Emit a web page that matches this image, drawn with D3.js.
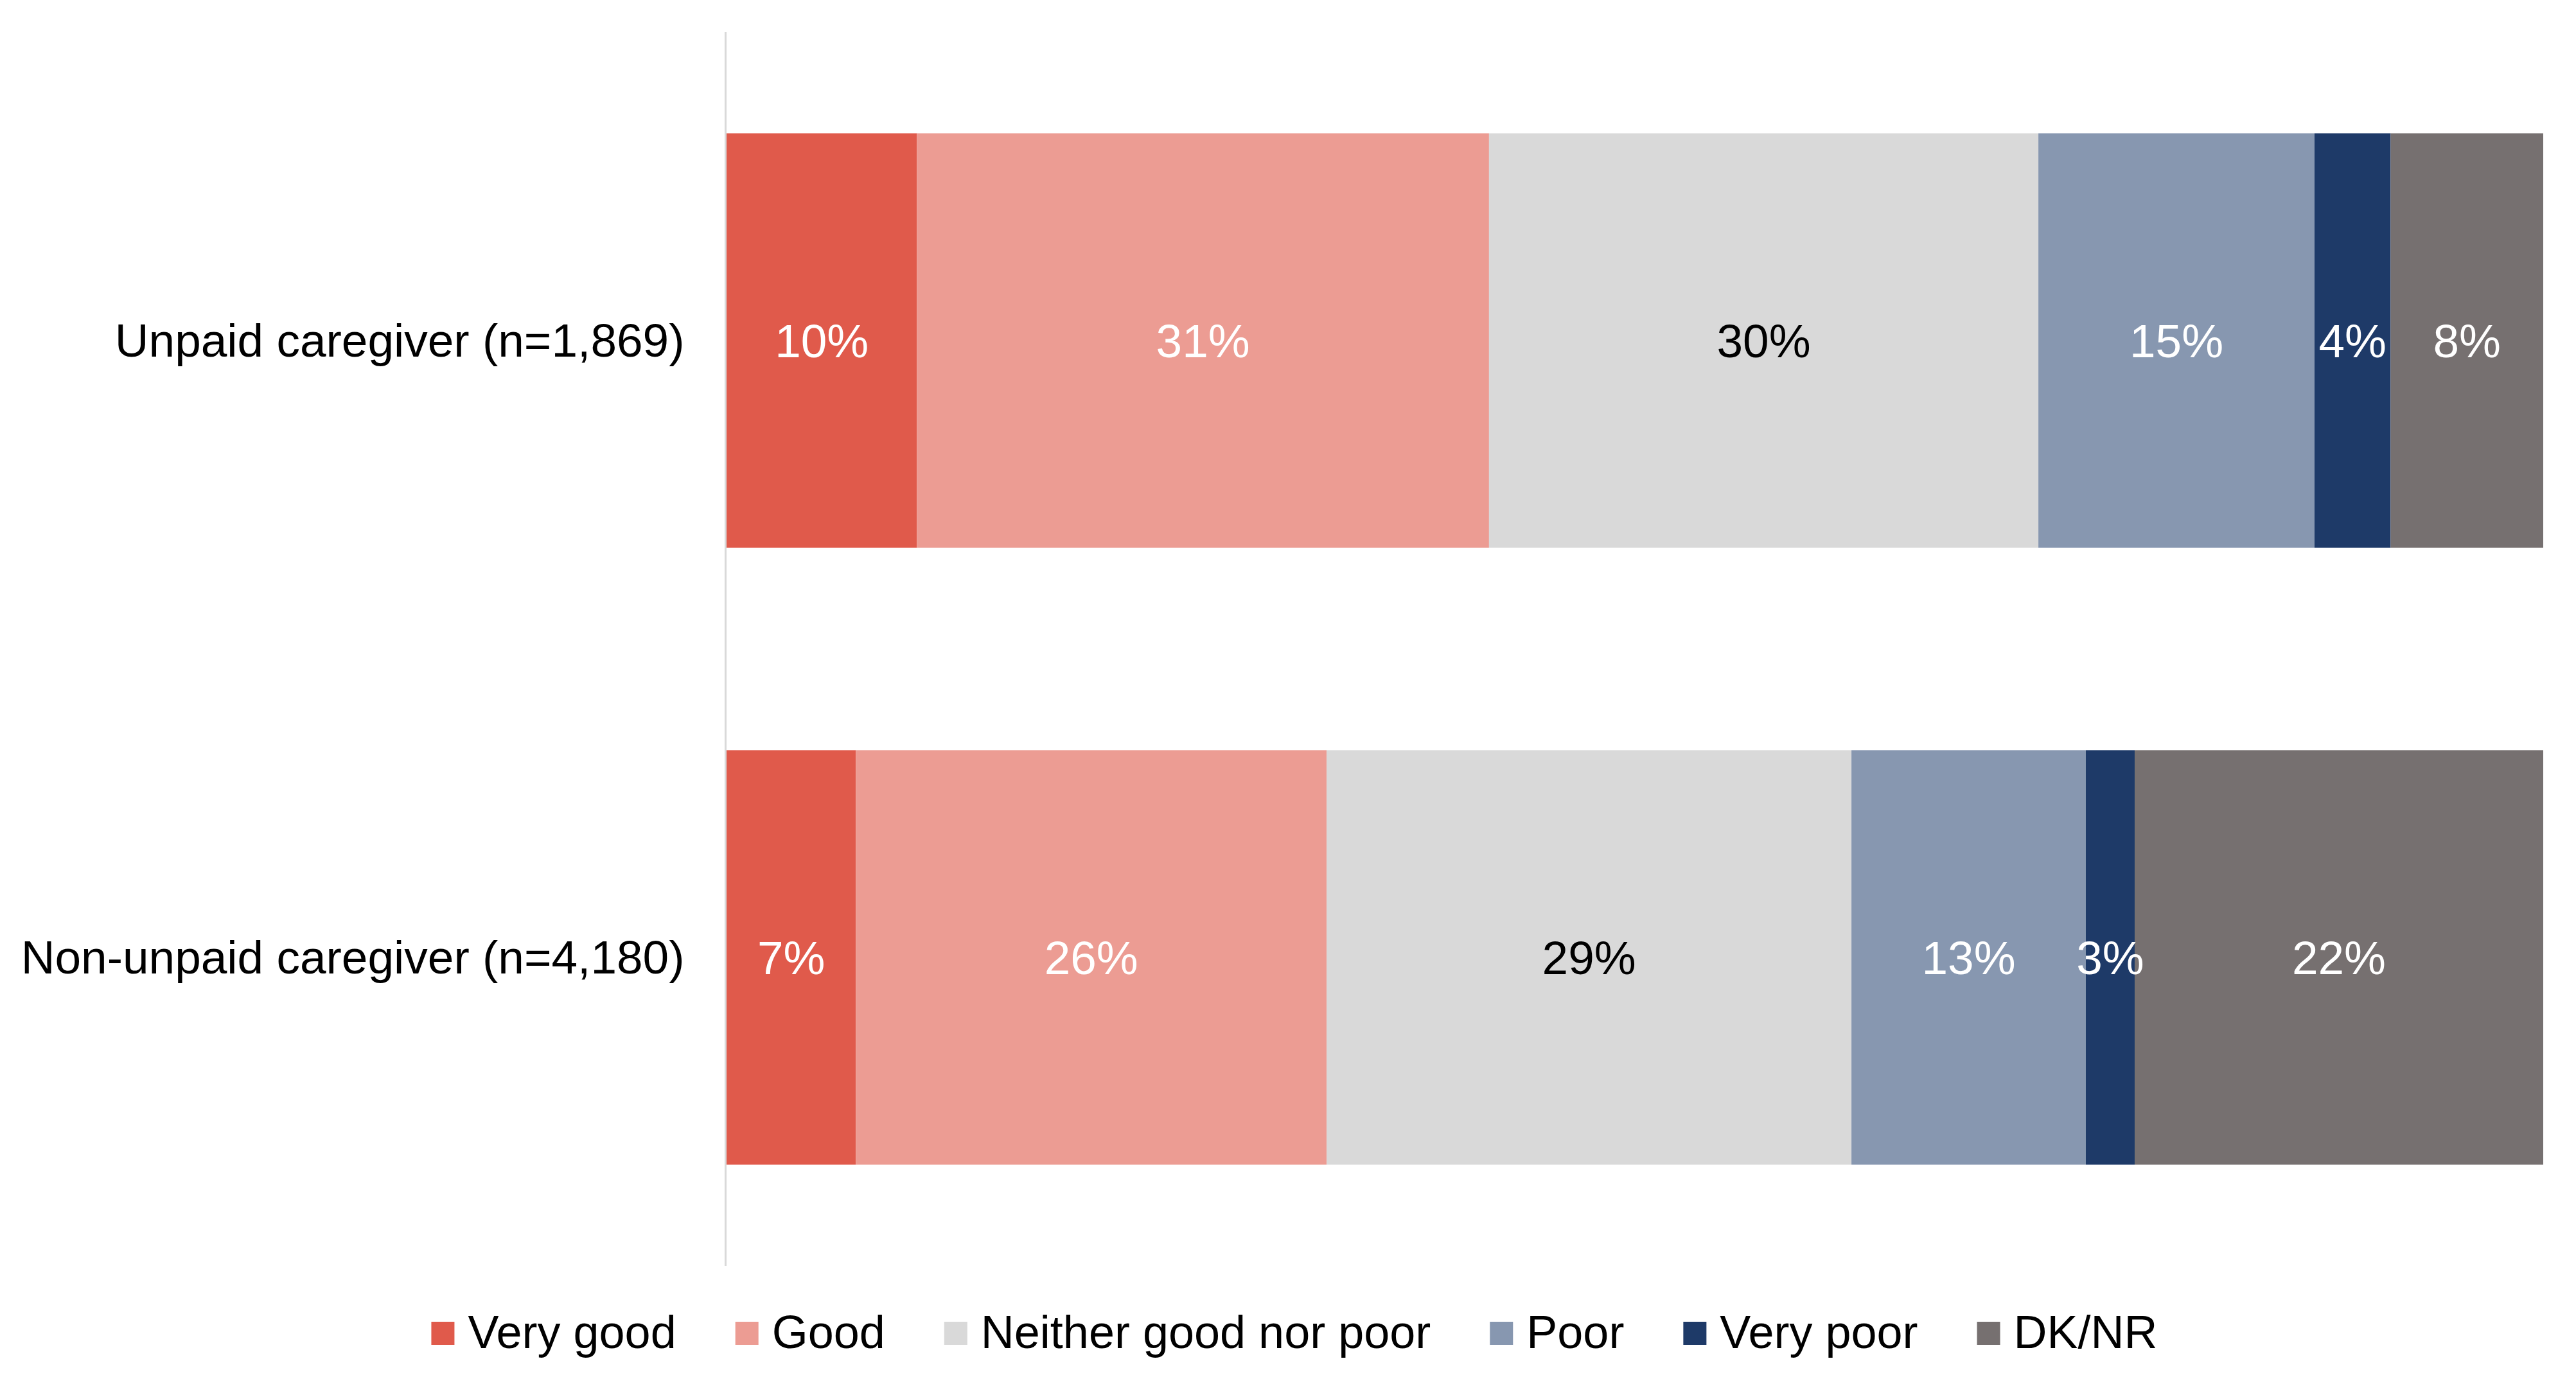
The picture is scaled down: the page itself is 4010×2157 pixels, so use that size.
<!DOCTYPE html>
<html>
<head>
<meta charset="utf-8">
<script src="https://cdn.jsdelivr.net/npm/d3@7"></script>
<style>
  html, body { margin: 0; padding: 0; background: #ffffff; }
  svg { display: block; }
  text { font-family: "Liberation Sans", Arial, sans-serif; }
</style>
</head>
<body>
<svg id="chart" width="4010" height="2157"></svg>
<script>
// ---- Data ----
const categories = ["Unpaid caregiver (n=1,869)", "Non-unpaid caregiver (n=4,180)"];
const seriesNames = ["Very good", "Good", "Neither good nor poor", "Poor", "Very poor", "DK/NR"];
const veryGood = [10.48, 7.12];
const good     = [31.49, 25.91];
const neither  = [30.24, 28.89];
const poor     = [15.20, 12.90];
const veryPoor = [4.19, 2.69];
const dkNr     = [8.40, 22.49];
const seriesColors = ["#E05A4B", "#EC9C93", "#D9D9D9", "#8797B0", "#1E3A68", "#767070"];
const labelColors  = ["#FFFFFF", "#FFFFFF", "#000000", "#FFFFFF", "#FFFFFF", "#FFFFFF"];

const seriesValues = [veryGood, good, neither, poor, veryPoor, dkNr];
const rows = categories.map((c, i) => {
  const r = { category: c };
  seriesNames.forEach((s, j) => { r[s] = seriesValues[j][i]; });
  return r;
});

// ---- Layout ----
const svg = d3.select("#chart");
const plotLeft = 1131, plotRight = 3959, plotTop = 50, plotBottom = 1970;
const fontSize = 73;

const x = d3.scaleLinear().domain([0, 100]).range([plotLeft, plotRight]);
const y = d3.scaleBand().domain(categories).range([plotTop, plotBottom])
  .paddingInner(0.328).paddingOuter(0.164);

const stack = d3.stack().keys(seriesNames);
const stacked = stack(rows);

// bars
const layers = svg.append("g").selectAll("g.layer")
  .data(stacked).join("g")
  .attr("class", "layer")
  .attr("fill", (d, i) => seriesColors[i]);

layers.selectAll("rect")
  .data(d => d.map(p => ({ p, key: d.key })))
  .join("rect")
  .attr("x", d => x(d.p[0]))
  .attr("width", d => x(d.p[1]) - x(d.p[0]))
  .attr("y", d => y(d.p.data.category))
  .attr("height", y.bandwidth());

// data labels
const labelG = svg.append("g");
stacked.forEach((layer, i) => {
  labelG.selectAll(null)
    .data(layer).join("text")
    .attr("x", d => (x(d[0]) + x(d[1])) / 2)
    .attr("y", d => y(d.data.category) + y.bandwidth() / 2)
    .attr("dy", "0.36em")
    .attr("text-anchor", "middle")
    .attr("font-size", fontSize)
    .attr("fill", labelColors[i])
    .text(d => Math.round(d[1] - d[0]) + "%");
});

// y axis (line + category labels)
const yAxis = d3.axisLeft(y).tickSize(0).tickPadding(64);
const yAxisG = svg.append("g")
  .attr("transform", `translate(${plotLeft - 1.5},0)`)
  .call(yAxis);
yAxisG.select(".domain").remove();
yAxisG.selectAll(".tick text")
  .attr("font-size", fontSize)
  .attr("font-family", '"Liberation Sans", Arial, sans-serif')
  .attr("fill", "#000")
  .attr("dy", "0.34em");
svg.append("line")
  .attr("x1", plotLeft - 1.5).attr("x2", plotLeft - 1.5)
  .attr("y1", plotTop).attr("y2", plotBottom)
  .attr("stroke", "#D9D9D9").attr("stroke-width", 3);

// legend
const legendY = 2075;
const sq = 36, gapText = 21, gapItem = 92;
const legend = svg.append("g");
const items = legend.selectAll("g").data(seriesNames).join("g");
items.append("rect")
  .attr("width", sq).attr("height", sq)
  .attr("y", legendY - sq / 2)
  .attr("fill", (d, i) => seriesColors[i]);
items.append("text")
  .attr("x", sq + gapText)
  .attr("y", legendY + 23)
  .attr("font-size", 72)
  .attr("fill", "#000")
  .text(d => d);
let widths = [];
items.each(function () {
  widths.push(sq + gapText + d3.select(this).select("text").node().getComputedTextLength());
});
const total = d3.sum(widths) + gapItem * (widths.length - 1);
let cx = 2015 - total / 2;
items.each(function (d, i) {
  d3.select(this).attr("transform", `translate(${cx},0)`);
  cx += widths[i] + gapItem;
});
</script>
</body>
</html>
